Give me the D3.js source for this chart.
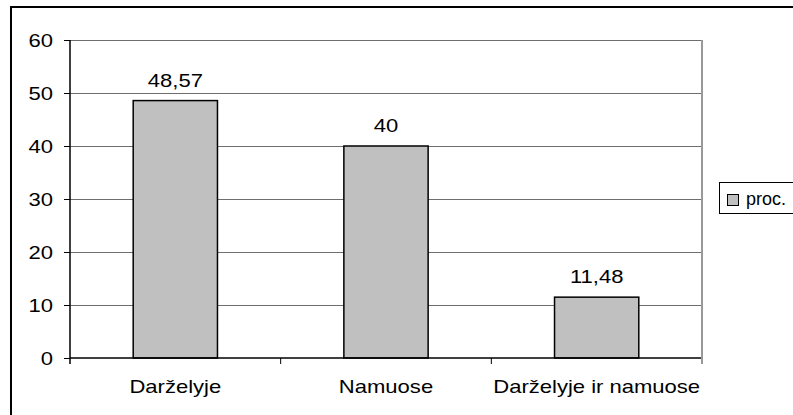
<!DOCTYPE html>
<html>
<head>
<meta charset="utf-8">
<script src="https://d3js.org/d3.v7.min.js"></script>
<style>
  body { margin: 0; background: #fff; }
  text { font-family: "Liberation Sans", Arial, sans-serif; fill: #000; }
</style>
</head>
<body>
<div id="containerChart"></div>
<script>
//Width and height
let w = 793;
let h = 415;
let margin = {top: 40, right: 92, bottom: 57, left: 70};
let fontSize = "19px";
let stretch = 1.16;   // the source picture is a bit wider than tall

// data
let categories = ["Darželyje", "Namuose", "Darželyje ir namuose"];
let values = [48.57, 40, 11.48];
let valueLabels = ["48,57", "40", "11,48"];
let yTicks = [0, 10, 20, 30, 40, 50, 60];
let seriesName = "proc.";

function place(px, py) {
    return "translate(" + px + "," + py + ") scale(" + stretch + ",1)";
}

var svg = d3.select("#containerChart")
            .append("svg")
            .attr("width", w)
            .attr("height", h);

// outer chart frame (runs off the right and bottom edge)
svg.append("rect")
   .attr("x", 11)
   .attr("y", 7)
   .attr("width", 820)
   .attr("height", 430)
   .style("fill", "none")
   .style("stroke", "#000")
   .style("stroke-width", 2);

var x = d3.scaleBand()
          .domain(categories)
          .range([margin.left, w - margin.right + 1])
          .paddingInner(0.6)
          .paddingOuter(0.3);

var xOuter = d3.scaleBand()
               .domain(categories)
               .range([margin.left, w - margin.right + 1]);

var y = d3.scaleLinear()
          .domain([0, 60])
          .range([h - margin.bottom, margin.top]);

// gridlines
svg.append("g")
   .selectAll("line")
   .data(yTicks.slice(1))
   .enter()
   .append("line")
   .attr("x1", margin.left)
   .attr("x2", w - margin.right)
   .attr("y1", function(d) { return y(d) + 0.5; })
   .attr("y2", function(d) { return y(d) + 0.5; })
   .style("stroke", "#6e6e6e")
   .style("stroke-width", 1);

// right border of plot area
svg.append("line")
   .attr("x1", w - margin.right + 1)
   .attr("x2", w - margin.right + 1)
   .attr("y1", margin.top)
   .attr("y2", h - margin.bottom + 6)
   .style("stroke", "#999")
   .style("stroke-width", 2);

// bars
svg.selectAll("rect.bar")
   .data(values)
   .enter()
   .append("rect")
   .attr("class", "bar")
   .attr("x", function(d, i) { return x(categories[i]); })
   .attr("y", function(d) { return y(d); })
   .attr("width", x.bandwidth())
   .attr("height", function(d) { return y(0) - y(d); })
   .style("fill", "#c0c0c0")
   .style("stroke", "#000")
   .style("stroke-width", 1.5);

// value labels
svg.selectAll("text.val")
   .data(values)
   .enter()
   .append("text")
   .attr("class", "val")
   .attr("transform", function(d, i) {
       return place(x(categories[i]) + x.bandwidth() / 2, y(d) - 14);
   })
   .attr("text-anchor", "middle")
   .style("font-size", fontSize)
   .text(function(d, i) { return valueLabels[i]; });

// y axis
var yAxis = d3.axisLeft(y)
              .tickValues(yTicks)
              .tickSize(6)
              .tickFormat("");

var gy = svg.append("g")
            .attr("transform", "translate(" + margin.left + ",0)")
            .call(yAxis);
gy.select(".domain").remove();
gy.selectAll("line").style("stroke", "#000");

svg.selectAll("text.ylab")
   .data(yTicks)
   .enter()
   .append("text")
   .attr("class", "ylab")
   .attr("transform", function(d) { return place(53, y(d) + 7); })
   .attr("text-anchor", "end")
   .style("font-size", fontSize)
   .text(function(d) { return d; });

svg.append("line")
   .attr("x1", margin.left)
   .attr("x2", margin.left)
   .attr("y1", margin.top)
   .attr("y2", h - margin.bottom + 6)
   .style("stroke", "#000")
   .style("stroke-width", 1.5);

// category axis: baseline, separators, labels
svg.append("line")
   .attr("x1", margin.left)
   .attr("x2", w - margin.right)
   .attr("y1", y(0))
   .attr("y2", y(0))
   .style("stroke", "#000")
   .style("stroke-width", 1.5);

svg.selectAll("line.sep")
   .data(categories.slice(1))
   .enter()
   .append("line")
   .attr("class", "sep")
   .attr("x1", function(d) { return xOuter(d); })
   .attr("x2", function(d) { return xOuter(d); })
   .attr("y1", y(0))
   .attr("y2", y(0) + 6)
   .style("stroke", "#000");

svg.selectAll("text.cat")
   .data(categories)
   .enter()
   .append("text")
   .attr("class", "cat")
   .attr("transform", function(d) { return place(xOuter(d) + xOuter.bandwidth() / 2, y(0) + 35); })
   .attr("text-anchor", "middle")
   .style("font-size", fontSize)
   .text(function(d) { return d; });

// legend
var legend = svg.append("g").attr("transform", "translate(719,182)");
legend.append("rect")
      .attr("x", 0.5)
      .attr("y", 0.5)
      .attr("width", 100)
      .attr("height", 31)
      .style("fill", "#fff")
      .style("stroke", "#000");
legend.append("rect")
      .attr("x", 8.5)
      .attr("y", 12.5)
      .attr("width", 11)
      .attr("height", 11)
      .style("fill", "#c0c0c0")
      .style("stroke", "#000");
legend.append("text")
      .attr("x", 27)
      .attr("y", 23)
      .style("font-size", "18px")
      .text(seriesName);
</script>
</body>
</html>
